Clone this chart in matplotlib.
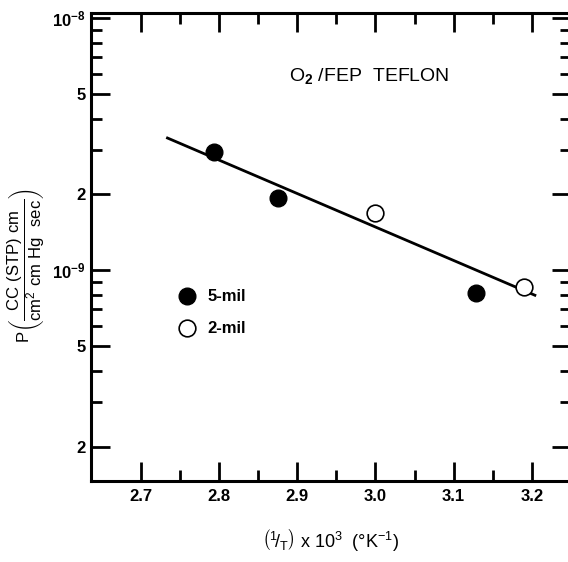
import matplotlib
matplotlib.use("Agg")
import matplotlib.pyplot as plt
import numpy as np
from matplotlib.ticker import FixedLocator, NullFormatter

plt.rcParams['font.family'] = ['Liberation Sans', 'DejaVu Sans']
plt.rcParams['mathtext.fontset'] = 'custom'
plt.rcParams['mathtext.rm'] = 'Liberation Sans'
plt.rcParams['mathtext.bf'] = 'Liberation Sans:bold'

# data
x_5mil = [2.793, 2.876, 3.129]
p_5mil = [2.96e-9, 1.93e-9, 8.1e-10]
x_2mil = [3.0, 3.19]
p_2mil = [1.69e-9, 8.6e-10]
fit_x = [2.734, 3.204]
fit_p = [3.35e-9, 7.97e-10]

x_major = [2.7, 2.8, 2.9, 3.0, 3.1, 3.2]
x_labels = ['2.7', '2.8', '2.9', '3.0', '3.1', '3.2']
x_minor = [2.75, 2.85, 2.95, 3.05, 3.15]
y_major = [2e-10, 5e-10, 1e-9, 2e-9, 5e-9, 1e-8]
y_labels = ['2', '5', r'$\mathbf{10^{-9}}$', '2', '5', r'$\mathbf{10^{-8}}$']
y_minor = [3e-10, 4e-10, 6e-10, 7e-10, 8e-10, 9e-10,
           3e-9, 4e-9, 6e-9, 7e-9, 8e-9, 9e-9]

fig = plt.figure(figsize=(5.68, 5.62), dpi=100)
ax = fig.add_axes([0.160, 0.144, 0.845, 0.833])

ax.plot(fit_x, fit_p, color='black', lw=2)
ax.plot(x_5mil, p_5mil, 'o', color='black', ms=12)
ax.plot(x_2mil, p_2mil, 'o', mfc='white', mec='black', mew=1.2, ms=12)

ax.set_yscale('log')
ax.set_xlim(2.636, 3.25)
ax.set_ylim(1.46e-10, 1.05e-8)

ax.xaxis.set_major_locator(FixedLocator(x_major))
ax.set_xticklabels(x_labels, fontweight='bold', fontsize=12)
ax.xaxis.set_minor_locator(FixedLocator(x_minor))
ax.yaxis.set_major_locator(FixedLocator(y_major))
ax.set_yticklabels(y_labels, fontweight='bold', fontsize=12)
ax.yaxis.set_minor_locator(FixedLocator(y_minor))
ax.yaxis.set_minor_formatter(NullFormatter())

ax.tick_params(which='both', direction='in', top=True, right=True, width=2)
ax.tick_params(which='major', length=14, pad=6)
ax.tick_params(axis='y', which='major', pad=4)
ax.tick_params(which='minor', length=8)
for s in ax.spines.values():
    s.set_linewidth(2.2)

# legend drawn by hand
ax.plot([2.759], [7.9e-10], 'o', color='black', ms=12)
ax.plot([2.759], [5.9e-10], 'o', mfc='white', mec='black', mew=1.2, ms=12)
ax.text(2.785, 7.9e-10, '5-mil', fontsize=12, fontweight='bold', va='center')
ax.text(2.785, 5.9e-10, '2-mil', fontsize=12, fontweight='bold', va='center')

ax.text(2.89, 5.87e-9, r'O$_{\mathbf{2}}$ /FEP  TEFLON', fontsize=14, va='center')

ax.set_ylabel(r'P$\left(\dfrac{\mathrm{CC\ (STP)\ cm}}{\mathrm{cm^2\ cm\ Hg\ \ sec}}\right)$',
              fontsize=12)
ax.yaxis.set_label_coords(-0.092, 0.46)
ax.set_xlabel(r'$\left(^1\!/_\mathrm{T}\right)$ x 10$^3$  ($\degree$K$^{-1}$)',
              fontsize=13, labelpad=16)

fig.savefig('out.png', dpi=100)
